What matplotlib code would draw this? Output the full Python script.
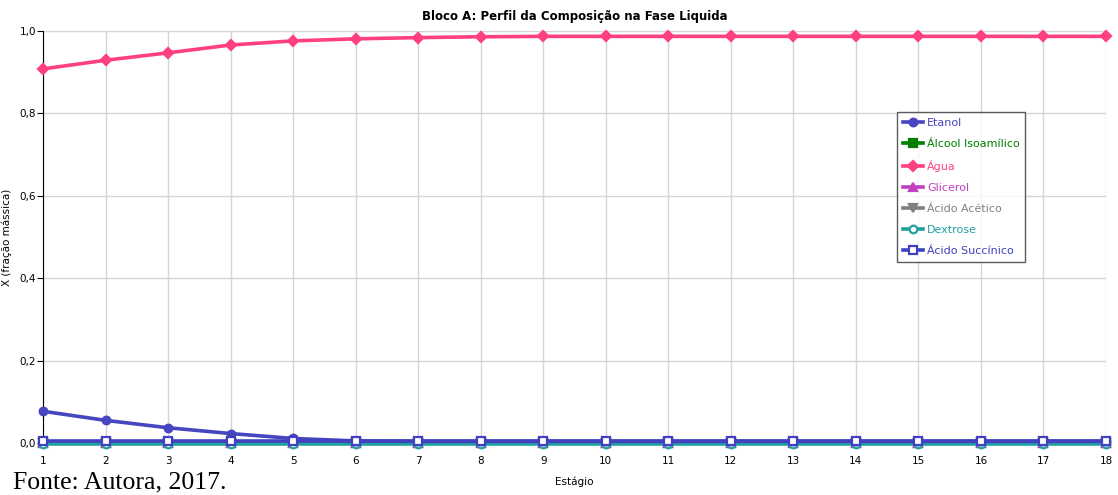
import matplotlib.pyplot as plt
from matplotlib.ticker import FuncFormatter

estagio = list(range(1, 19))
etanol = [0.077, 0.055, 0.037, 0.023, 0.011, 0.005, 0.004, 0.004, 0.004, 0.004,
          0.004, 0.004, 0.004, 0.004, 0.004, 0.004, 0.004, 0.004]
agua = [0.908, 0.929, 0.947, 0.966, 0.976, 0.981, 0.984, 0.986, 0.987, 0.987,
        0.987, 0.987, 0.987, 0.987, 0.987, 0.987, 0.987, 0.987]
alcool_isoamilico = [0.0] * 18
glicerol = [0.0] * 18
acido_acetico = [0.0] * 18
dextrose = [-0.002] * 18
acido_succinico = [0.004] * 18

series = [
    ("Etanol", etanol, "#4646c0", "o", "#4646c0"),
    ("Álcool Isoamílico", alcool_isoamilico, "#007f00", "s", "#007f00"),
    ("Água", agua, "#ff4080", "D", "#ff4080"),
    ("Glicerol", glicerol, "#c040c0", "^", "#c040c0"),
    ("Ácido Acético", acido_acetico, "#808080", "v", "#808080"),
    ("Dextrose", dextrose, "#20a0a0", "o", "white"),
    ("Ácido Succínico", acido_succinico, "#4040c0", "s", "white"),
]

fig = plt.figure(figsize=(11.18, 4.95), dpi=100)
ax = fig.add_axes([43 / 1118, 1 - 443 / 495, (1106 - 43) / 1118, (443 - 31) / 495])

z = {"Ácido Succínico": 10, "Etanol": 9, "Água": 8}
for nome, vals, cor, mk, face in series:
    ax.plot(estagio, vals, color=cor, lw=2.6, marker=mk, markersize=5.5,
            markerfacecolor=face, markeredgecolor=cor, markeredgewidth=1.6,
            label=nome, clip_on=False, zorder=z.get(nome, 5))

ax.set_xlim(1, 18)
ax.set_ylim(0, 1.0)
ax.set_xticks(estagio)
ax.set_yticks([0, 0.2, 0.4, 0.6, 0.8, 1.0])
ax.yaxis.set_major_formatter(FuncFormatter(lambda v, p: f"{v:.1f}".replace(".", ",")))
ax.grid(True, color="#d4d4d4", lw=1)
ax.set_axisbelow(True)
for s in ("top", "right", "bottom"):
    ax.spines[s].set_visible(False)
ax.spines["left"].set_color("black")
ax.tick_params(axis="y", length=4, labelsize=7.5, pad=1)
ax.tick_params(axis="x", length=0, labelsize=7.5, pad=9)

ax.set_title("Bloco A: Perfil da Composição na Fase Liquida", fontsize=8.5,
             fontweight="bold", pad=8)
ax.set_xlabel("Estágio", fontsize=7.5, labelpad=8)
ax.set_ylabel("X (fração mássica)", fontsize=7.5)
ax.yaxis.set_label_coords(-31 / 1063, 0.5)

leg = ax.legend(loc="upper left", bbox_to_anchor=(854 / 1063, 331 / 412),
                fontsize=8, frameon=True, fancybox=False, borderpad=0.5,
                handlelength=1.8, handletextpad=0.4, labelspacing=1.0,
                borderaxespad=0)
leg.get_frame().set_edgecolor("#333333")
leg.get_frame().set_linewidth(1)
for txt, (_, _, cor, _, _) in zip(leg.get_texts(), series):
    txt.set_color(cor)

fig.text(13 / 1118, 1 - 488 / 495, "Fonte: Autora, 2017.", fontsize=18.5,
         family="Liberation Serif", va="baseline")

fig.savefig("out.png", dpi=100)
